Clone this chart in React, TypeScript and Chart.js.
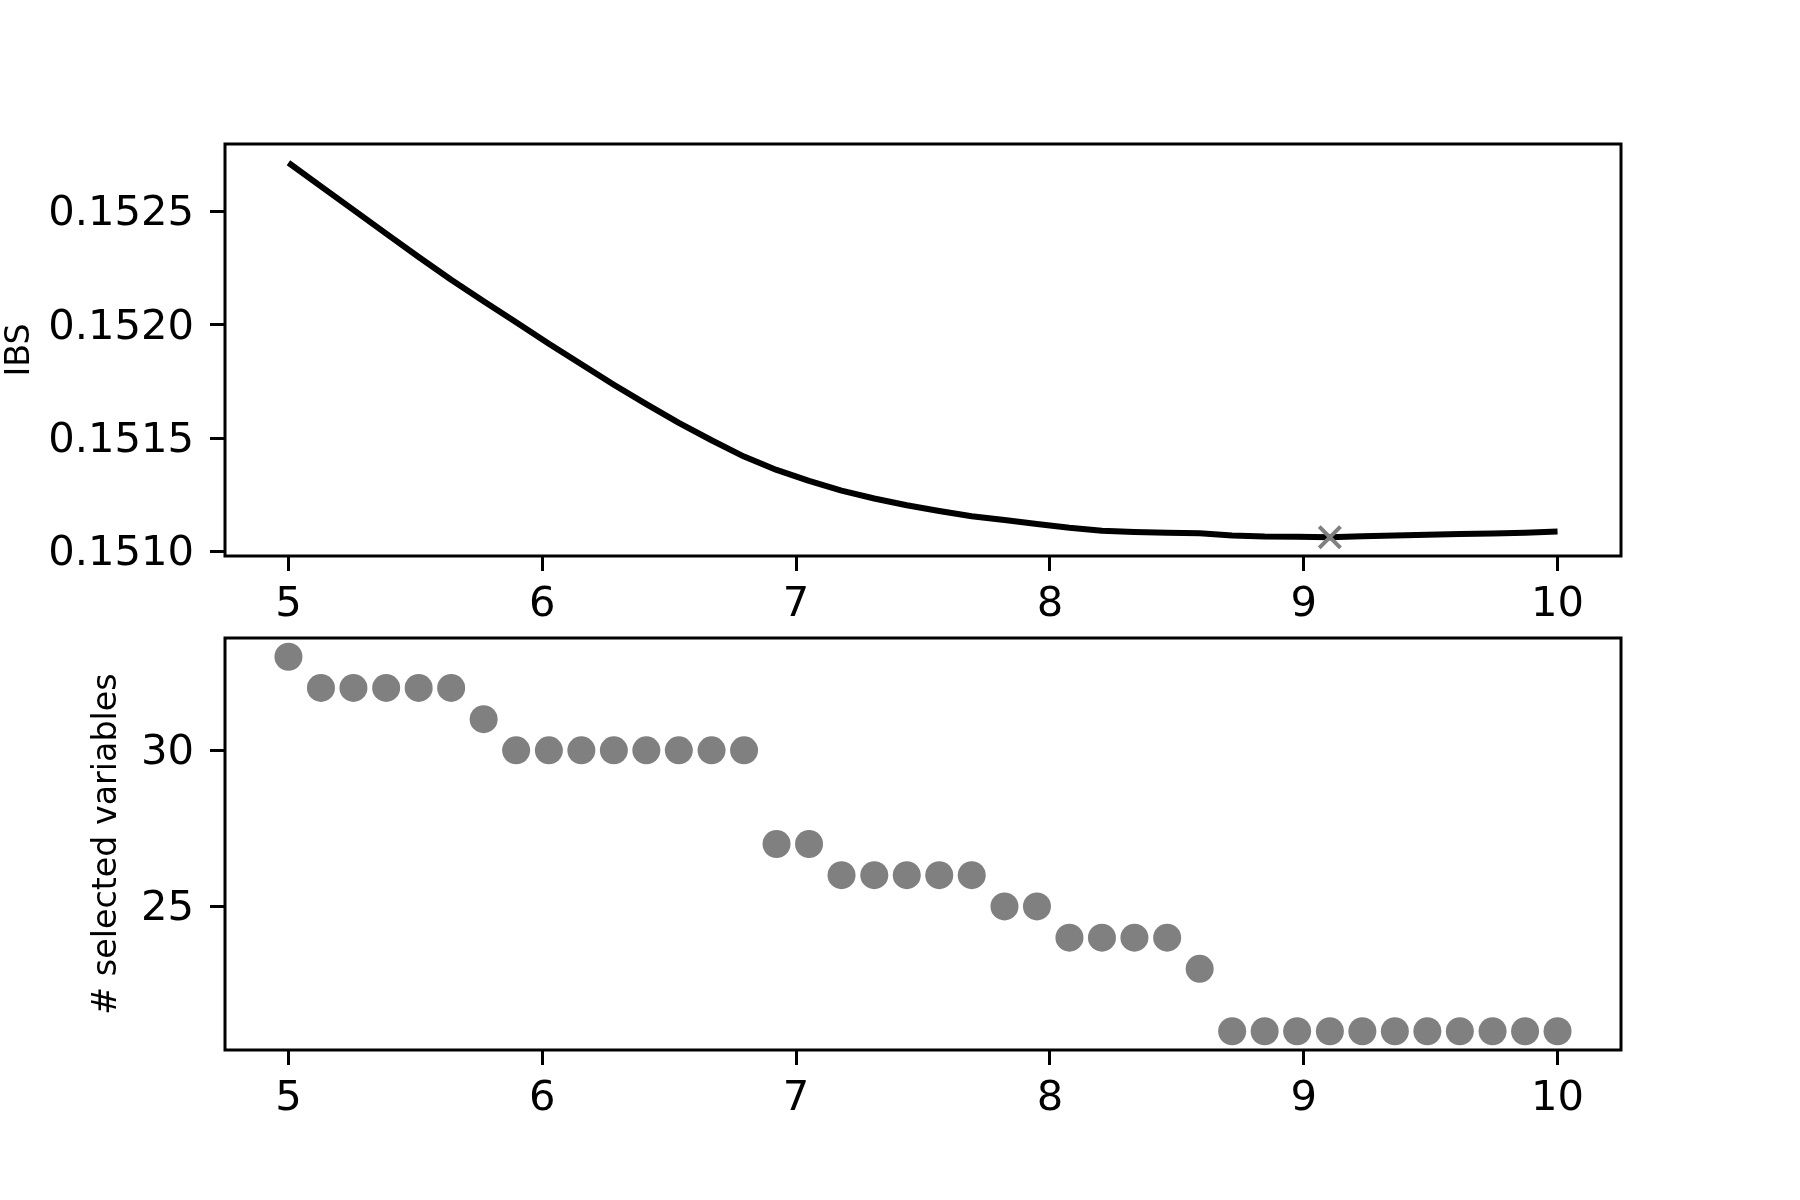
import React, { useEffect, useRef } from "react";
import { Chart, registerables } from "chart.js";

Chart.register(...registerables);

// x positions (alpha values) shared by both panels
const alphaValues = [
  5.0, 5.128, 5.256, 5.385, 5.513, 5.641, 5.769, 5.897, 6.026, 6.154,
  6.282, 6.41, 6.538, 6.667, 6.795, 6.923, 7.051, 7.179, 7.308, 7.436,
  7.564, 7.692, 7.821, 7.949, 8.077, 8.205, 8.333, 8.462, 8.59, 8.718,
  8.846, 8.974, 9.103, 9.231, 9.359, 9.487, 9.615, 9.744, 9.872, 10.0,
];

// IBS curve (top panel)
const ibsValues = [
  0.152715, 0.152611, 0.152507, 0.152402, 0.152299, 0.152199, 0.152104, 0.152011, 0.151917, 0.151826,
  0.151736, 0.151650, 0.151568, 0.151491, 0.151419, 0.151360, 0.151312, 0.151269, 0.151234, 0.151204,
  0.151179, 0.151156, 0.151139, 0.151122, 0.151105, 0.151092, 0.151086, 0.151083, 0.151081, 0.151071,
  0.151066, 0.151065, 0.151063, 0.151068, 0.151071, 0.151074, 0.151077, 0.151080, 0.151083, 0.151088,
];

// number of selected variables (bottom panel)
const selectedCounts = [
  33, 32, 32, 32, 32, 32, 31, 30, 30, 30,
  30, 30, 30, 30, 30, 27, 27, 26, 26, 26,
  26, 26, 25, 25, 24, 24, 24, 24, 23, 21,
  21, 21, 21, 21, 21, 21, 21, 21, 21, 21,
];

const xTickValues = [5, 6, 7, 8, 9, 10];
const ibsTickValues = [0.151, 0.1515, 0.152, 0.1525];
const countTickValues = [25, 30];

const FONT = "'DejaVu Sans', sans-serif";
const TICK_SIZE = 41.7;
const TITLE_SIZE = 33.3;

const framePlugin = {
  id: "frame",
  afterDraw(chart: any) {
    const { ctx, chartArea: a } = chart;
    ctx.save();
    ctx.strokeStyle = "#000";
    ctx.lineWidth = 3;
    ctx.strokeRect(a.left, a.top, a.right - a.left, a.bottom - a.top);
    ctx.restore();
  },
};

function padRange(vals: number[]) {
  const mn = Math.min(...vals);
  const mx = Math.max(...vals);
  const m = (mx - mn) * 0.05;
  return [mn - m, mx + m];
}

function gridCfg() {
  return {
    display: true,
    drawOnChartArea: false,
    drawTicks: true,
    tickLength: 15,
    tickWidth: 3,
    tickColor: "#000",
  };
}

function xScaleCfg() {
  const [mn, mx] = padRange(alphaValues);
  return {
    type: "linear",
    min: mn,
    max: mx,
    afterBuildTicks: (s: any) => {
      s.ticks = xTickValues.map((v) => ({ value: v }));
    },
    afterFit: (s: any) => {
      s.height = 80;
    },
    grid: gridCfg(),
    border: { display: false },
    ticks: {
      color: "#000",
      font: { family: FONT, size: TICK_SIZE },
      padding: 9,
      maxRotation: 0,
      autoSkip: false,
      callback: (v: any) => String(v),
    },
  };
}

function yScaleCfg(vals: number[], ticks: number[], width: number, title: string, fmt: (v: number) => string) {
  const [mn, mx] = padRange(vals);
  return {
    type: "linear",
    min: mn,
    max: mx,
    afterBuildTicks: (s: any) => {
      s.ticks = ticks.map((v) => ({ value: v }));
    },
    afterFit: (s: any) => {
      s.width = width;
    },
    grid: gridCfg(),
    border: { display: false },
    title: {
      display: true,
      text: title,
      color: "#000",
      font: { family: FONT, size: TITLE_SIZE },
      padding: 0,
    },
    ticks: {
      color: "#000",
      font: { family: FONT, size: TICK_SIZE },
      padding: 16,
      labelOffset: 3,
      autoSkip: false,
      callback: (v: any) => fmt(Number(v)),
    },
  };
}

export default function App() {
  const topRef = useRef<HTMLCanvasElement | null>(null);
  const botRef = useRef<HTMLCanvasElement | null>(null);

  useEffect(() => {
    let best = 0;
    ibsValues.forEach((v, i) => {
      if (v < ibsValues[best]) best = i;
    });

    const top = new Chart(topRef.current as HTMLCanvasElement, {
      type: "scatter",
      data: {
        datasets: [
          {
            data: [{ x: alphaValues[best], y: ibsValues[best] }],
            pointStyle: "crossRot",
            pointRadius: 15,
            borderColor: "#808080",
            backgroundColor: "#808080",
            pointBorderWidth: 4,
            showLine: false,
          } as any,
          {
            data: alphaValues.map((x, i) => ({ x, y: ibsValues[i] })),
            showLine: true,
            borderColor: "#000",
            borderWidth: 6,
            pointRadius: 0,
            tension: 0,
            borderJoinStyle: "round",
          } as any,
        ],
      },
      options: {
        animation: false,
        responsive: false,
        devicePixelRatio: 1,
        layout: { padding: { top: 144, right: 179, bottom: 1200 - 556 - 80, left: 0 } },
        plugins: { legend: { display: false }, tooltip: { enabled: false } },
        scales: {
          x: xScaleCfg() as any,
          y: yScaleCfg(ibsValues, ibsTickValues, 225, "IBS", (v) => v.toFixed(4)) as any,
        },
      },
      plugins: [framePlugin],
    });

    const bot = new Chart(botRef.current as HTMLCanvasElement, {
      type: "scatter",
      data: {
        datasets: [
          {
            data: alphaValues.map((x, i) => ({ x, y: selectedCounts[i] })),
            pointRadius: 14,
            pointBorderWidth: 0,
            backgroundColor: "#808080",
            borderColor: "#808080",
          } as any,
        ],
      },
      options: {
        animation: false,
        responsive: false,
        devicePixelRatio: 1,
        layout: { padding: { top: 638, right: 179, bottom: 1200 - 1050 - 80, left: 87 } },
        plugins: { legend: { display: false }, tooltip: { enabled: false } },
        scales: {
          x: xScaleCfg() as any,
          y: yScaleCfg(selectedCounts, countTickValues, 225 - 87, "# selected variables", (v) => String(v)) as any,
        },
      },
      plugins: [framePlugin],
    });

    return () => {
      top.destroy();
      bot.destroy();
    };
  }, []);

  return (
    <div style={{ position: "absolute", left: 0, top: 0, width: 1800, height: 1200, background: "#fff" }}>
      <canvas ref={topRef} width={1800} height={1200} style={{ position: "absolute", left: 0, top: 0, width: 1800, height: 1200 }} />
      <canvas ref={botRef} width={1800} height={1200} style={{ position: "absolute", left: 0, top: 0, width: 1800, height: 1200 }} />
    </div>
  );
}
